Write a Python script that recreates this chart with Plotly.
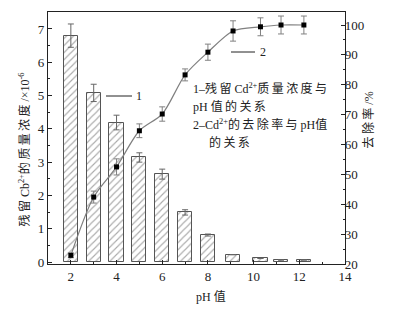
import plotly.graph_objects as go

# Data
ph_bar = [2, 3, 4, 5, 6, 7, 8, 9.1, 10.3, 11.2, 12.2]
conc = [6.8, 5.08, 4.19, 3.14, 2.64, 1.49, 0.81, 0.22, 0.11, 0.06, 0.06]
conc_err = [0.35, 0.26, 0.22, 0.14, 0.15, 0.08, 0.03, 0.0, 0.0, 0.0, 0.0]

ph_line = [2, 3, 4, 5, 6, 7, 8, 9.1, 10.3, 11.2, 12.2]
removal = [22.9, 42.4, 52.5, 64.6, 70.2, 83.3, 90.9, 98.0, 99.4, 100.0, 100.0]
removal_err = [0.8, 2.0, 2.7, 2.3, 2.4, 2.0, 2.7, 3.4, 3.0, 3.0, 3.0]

FONT = "Liberation Serif, Times New Roman, Noto Sans CJK SC, serif"
GRAY = "#555555"
OFF = 8  # browser body margin
W, H = 398 - OFF, 310 - OFF
L, T = 48 - OFF, 12 - OFF
R = W - (345 - OFF)
B = H - (264 - OFF)
PW, PH = W - L - R, H - T - B
S = "\u2009"  # thin space used as letter spacing

fig = go.Figure()
fig.add_trace(go.Bar(
    x=ph_bar, y=conc, width=0.62,
    marker=dict(color="white", line=dict(color=GRAY, width=1),
                pattern=dict(shape="/", fgcolor="#555555", bgcolor="white", size=5, solidity=0.22)),
    error_y=dict(type="data", array=conc_err, color="#666666", thickness=1, width=3),
    yaxis="y", showlegend=False,
))
fig.add_trace(go.Scatter(
    x=ph_line, y=removal, mode="lines+markers",
    line=dict(color="#808080", width=1.2, shape="spline", smoothing=0.8),
    marker=dict(symbol="square", color="black", size=5),
    error_y=dict(type="data", array=removal_err, color="#808080", thickness=1, width=3),
    yaxis="y2", showlegend=False,
))

axis_common = dict(showline=True, linecolor="#222222", linewidth=1.2, ticks="inside",
                   ticklen=4, tickcolor="#222222", showgrid=False, zeroline=False,
                   automargin=False,
                   tickfont=dict(family=FONT, size=13, color="#222222"))

fig.update_layout(
    width=W, height=H,
    margin=dict(l=L, r=R, t=T, b=B, autoexpand=False),
    paper_bgcolor="white", plot_bgcolor="white",
    font=dict(family=FONT, color="#222222"),
    bargap=0,
    xaxis=dict(range=[1, 14], tickvals=[2, 4, 6, 8, 10, 12, 14], mirror=True,
               minor=dict(ticks="inside", ticklen=2, dtick=1, tick0=0, tickcolor="#222222"),
               **axis_common),
    yaxis=dict(range=[-0.06, 7.51], tickvals=list(range(0, 8)),
               minor=dict(ticks="inside", ticklen=2, dtick=0.5, tick0=0, tickcolor="#222222"),
               **axis_common),
    yaxis2=dict(range=[20, 104.35], tickvals=list(range(20, 101, 10)), overlaying="y",
                side="right", anchor="x", ticklabelstandoff=-4,
                minor=dict(ticks="inside", ticklen=2, dtick=5, tick0=0, tickcolor="#222222"),
                **axis_common),
)


def sp(s):
    return S.join(s)


ann_font = dict(family=FONT, size=12, color="#222222")
# positions given in page pixels from top-left, converted to paper coordinates
annots = [
    dict(x=211, y=296, text="pH " + "值"),
    dict(x=14, y=150, text=sp("残留") + " Cb<sup>2+</sup>" + sp("的质量浓度") + " /×10<sup>-6</sup>", textangle=-90),
    dict(x=377, y=120, text=sp("去除率") + " /%", textangle=-90),
    dict(x=191, y=88, text="1–" + sp("残留") + " Cd<sup>2+</sup>" + sp("质量浓度与"), xanchor="left"),
    dict(x=191, y=106, text="pH " + sp("值的关系"), xanchor="left"),
    dict(x=191, y=124, text="2–Cd<sup>2+</sup>" + sp("的去除率与") + " pH值", xanchor="left"),
    dict(x=207, y=142, text=sp("的关系"), xanchor="left"),
    dict(x=134, y=96, text="1", xanchor="left"),
    dict(x=258, y=52, text="2", xanchor="left"),
]


def px(x):
    return (x - OFF - L) / PW


def py(y):
    return (H - (y - OFF) - B) / PH


for a in annots:
    extra = {k: v for k, v in a.items() if k not in ("x", "y")}
    fig.add_annotation(xref="paper", yref="paper", showarrow=False,
                       font=ann_font, yanchor="middle",
                       x=px(a["x"]), y=py(a["y"]), **extra)
# short leader lines
for (x0, x1, yy) in [(106, 132, 96), (231, 255, 52)]:
    fig.add_shape(type="line", xref="paper", yref="paper",
                  x0=px(x0), x1=px(x1), y0=py(yy), y1=py(yy),
                  line=dict(color="#222222", width=1))

fig.write_html("out.html")
